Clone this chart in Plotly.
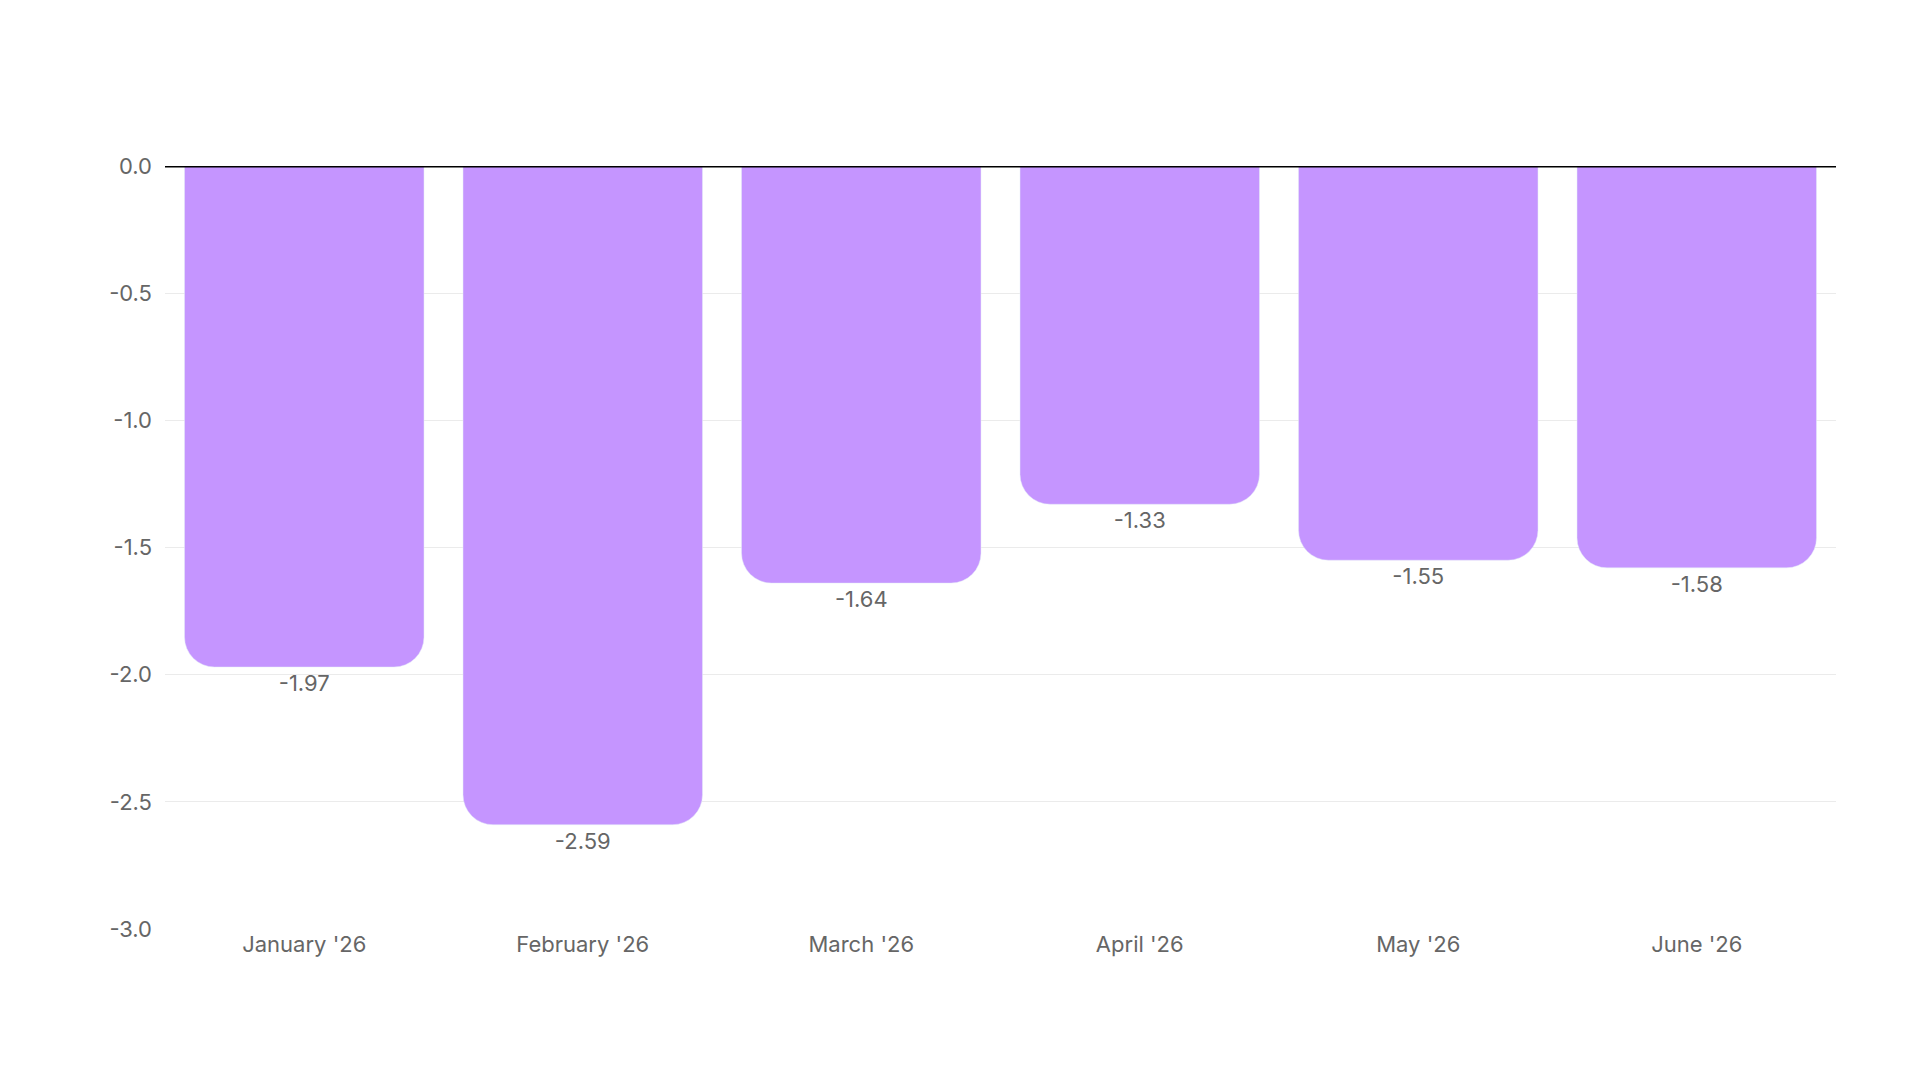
import plotly.graph_objects as go

months = ["January '26", "February '26", "March '26", "April '26", "May '26", "June '26"]
values = [-1.97, -2.59, -1.64, -1.33, -1.55, -1.58]
y_ticks = [0.0, -0.5, -1.0, -1.5, -2.0, -2.5, -3.0]

fig = go.Figure(
    go.Bar(
        x=months,
        y=values,
        marker_color="#c595ff",
        text=[f"{v:.2f}" for v in values],
        textposition="outside",
        textfont=dict(size=22, color="#666666"),
        cliponaxis=False,
    )
)
fig.update_layout(
    width=1920,
    height=1080,
    paper_bgcolor="white",
    plot_bgcolor="white",
    font=dict(family="Inter", color="#666666", size=22),
    margin=dict(l=157, r=92, t=158, b=159),
    bargap=0.14,
    barcornerradius=30,
    showlegend=False,
)
fig.update_xaxes(showgrid=False, ticks="", tickfont=dict(size=22, color="#666666"))
fig.update_yaxes(
    range=[-3.0, 0.0],
    tickvals=y_ticks,
    ticktext=[f"{t:.1f}" for t in y_ticks],
    gridcolor="#ebebeb",
    zeroline=False,
    ticks="",
    ticklabelstandoff=12,
)
fig.add_shape(type="line", xref="paper", yref="y", x0=0, x1=1, y0=0, y1=0,
              line=dict(color="black", width=3))
fig.write_html("out.html")
